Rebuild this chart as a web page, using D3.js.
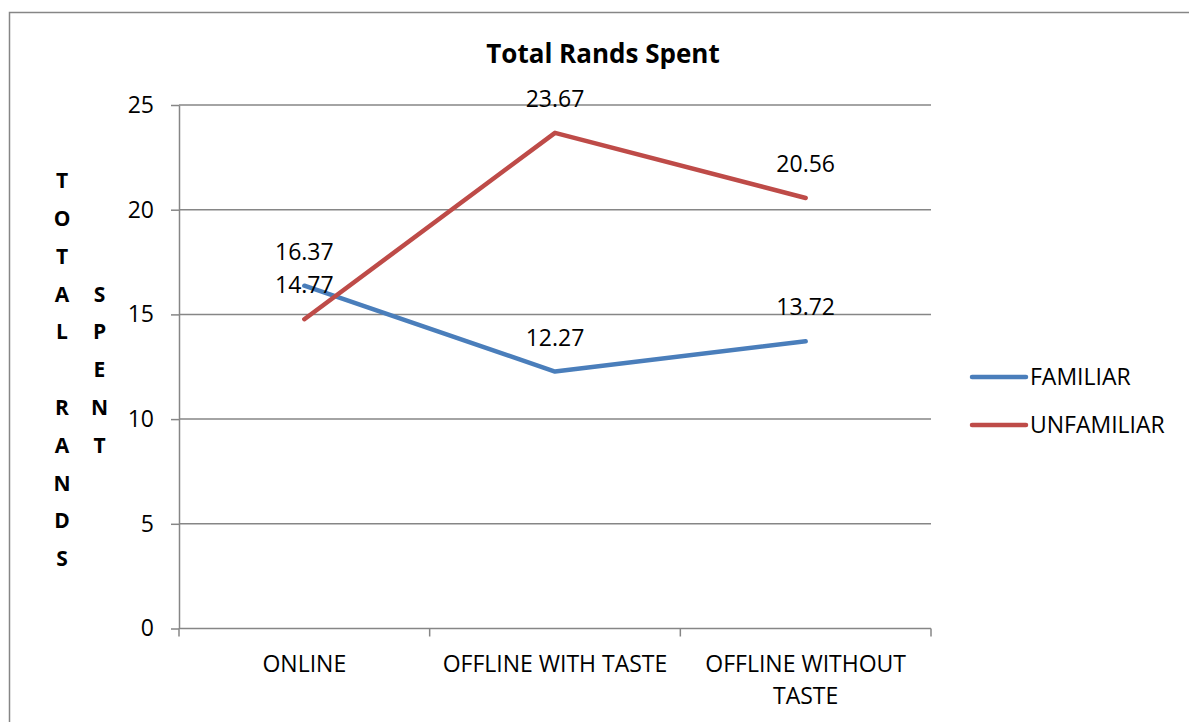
<!DOCTYPE html>
<html>
<head>
<meta charset="utf-8">
<script src="https://cdn.jsdelivr.net/npm/d3@7"></script>
<style>
  html, body { margin: 0; padding: 0; background: #fff; }
  svg { display: block; }
  text { font-family: "Open Sans", sans-serif; fill: #000; }
</style>
</head>
<body>
<svg id="chart" width="1189" height="722"></svg>
<script>
const categories = ["ONLINE", "OFFLINE WITH TASTE", "OFFLINE WITHOUT TASTE"];
const familiar = [16.37, 12.27, 13.72];
const unfamiliar = [14.77, 23.67, 20.56];
const seriesNames = ["FAMILIAR", "UNFAMILIAR"];
const seriesColors = ["#4a7ebb", "#be4b48"];
const yTicks = [0, 5, 10, 15, 20, 25];
const chartTitle = "Total Rands Spent";
const yTitleCol1 = "TOTAL RANDS";
const yTitleCol2 = "SPENT";

const svg = d3.select("#chart");
const grey = "#868686";
const fs = "23px";

// outer chart border (right and bottom edges are off-canvas)
svg.append("rect").attr("x", 9.5).attr("y", 12.5).attr("width", 1200).attr("height", 730)
  .attr("fill", "none").attr("stroke", grey).attr("stroke-width", 1.5);

const plot = { left: 179, right: 931, top: 105, bottom: 628.5 };
const x = d3.scaleBand().domain(categories).range([plot.left, plot.right]).padding(0);
const y = d3.scaleLinear().domain([0, 25]).range([plot.bottom, plot.top]);

// gridlines
svg.append("g").selectAll("line").data(yTicks.filter(d => d > 0)).join("line")
  .attr("x1", plot.left).attr("x2", plot.right)
  .attr("y1", d => y(d)).attr("y2", d => y(d))
  .attr("stroke", grey).attr("stroke-width", 1.5);

// y axis
const yAxis = svg.append("g").attr("transform", `translate(${plot.left},0)`)
  .call(d3.axisLeft(y).tickValues(yTicks).tickSize(8).tickPadding(17).tickSizeOuter(0));
yAxis.select(".domain").attr("stroke", grey).attr("stroke-width", 1.5);
yAxis.selectAll(".tick line").attr("stroke", grey).attr("stroke-width", 1.5);
yAxis.selectAll(".tick text").style("font-size", fs).style("font-family", "Open Sans").attr("fill", "#000");

// x axis baseline & boundary ticks
svg.append("line").attr("x1", plot.left).attr("x2", plot.right)
  .attr("y1", y(0)).attr("y2", y(0)).attr("stroke", grey).attr("stroke-width", 1.5);
const bounds = categories.map(c => x(c)).concat([x.range()[1]]);
svg.append("g").selectAll("line").data(bounds).join("line")
  .attr("x1", d => d).attr("x2", d => d)
  .attr("y1", y(0)).attr("y2", y(0) + 8)
  .attr("stroke", grey).attr("stroke-width", 1.5);

// category labels with wrapping
const catG = svg.append("g");
categories.forEach(c => {
  const t = catG.append("text").attr("text-anchor", "middle")
    .attr("x", x(c) + x.bandwidth() / 2).attr("y", 672)
    .style("font-size", fs);
  const words = c.split(" ");
  let line = [];
  let tspan = t.append("tspan").attr("x", x(c) + x.bandwidth() / 2).attr("dy", 0);
  words.forEach(w => {
    line.push(w);
    tspan.text(line.join(" "));
    if (tspan.node().getComputedTextLength() > x.bandwidth() - 10 && line.length > 1) {
      line.pop();
      tspan.text(line.join(" "));
      line = [w];
      tspan = t.append("tspan").attr("x", x(c) + x.bandwidth() / 2).attr("dy", 32).text(w);
    }
  });
});

// series lines
const cx = c => x(c) + x.bandwidth() / 2;
const lineGen = d3.line().x((d, i) => cx(categories[i])).y(d => y(d));
[familiar, unfamiliar].forEach((vals, si) => {
  svg.append("path").datum(vals).attr("d", lineGen)
    .attr("fill", "none").attr("stroke", seriesColors[si])
    .attr("stroke-width", 4.5).attr("stroke-linecap", "round").attr("stroke-linejoin", "round");
});

// data labels
[familiar, unfamiliar].forEach(vals => {
  svg.append("g").selectAll("text").data(vals).join("text")
    .attr("x", (d, i) => cx(categories[i])).attr("y", d => y(d) - 26)
    .attr("text-anchor", "middle").style("font-size", fs)
    .text(d => d.toFixed(2));
});

// title
svg.append("text").attr("x", 603).attr("y", 63).attr("text-anchor", "middle")
  .style("font-size", "26px").style("font-weight", "bold").text(chartTitle);

// y axis title as stacked letters
const rowY0 = 180.7, rowStep = 37.8;
const yt = svg.append("g").style("font-size", "21px").style("font-weight", "bold");
yTitleCol1.split("").forEach((ch, i) => {
  yt.append("text").attr("x", 62).attr("y", rowY0 + i * rowStep).attr("dy", "0.36em")
    .attr("text-anchor", "middle").text(ch);
});
yTitleCol2.split("").forEach((ch, i) => {
  yt.append("text").attr("x", 99.5).attr("y", rowY0 + (i + 3) * rowStep).attr("dy", "0.36em")
    .attr("text-anchor", "middle").text(ch);
});

// legend
const legY = [377, 425];
seriesNames.forEach((name, i) => {
  svg.append("line").attr("x1", 972).attr("x2", 1026).attr("y1", legY[i]).attr("y2", legY[i])
    .attr("stroke", seriesColors[i]).attr("stroke-width", 4.5).attr("stroke-linecap", "round");
  svg.append("text").attr("x", 1030).attr("y", legY[i]).attr("dy", "0.36em")
    .style("font-size", fs).text(name);
});
</script>
</body>
</html>
